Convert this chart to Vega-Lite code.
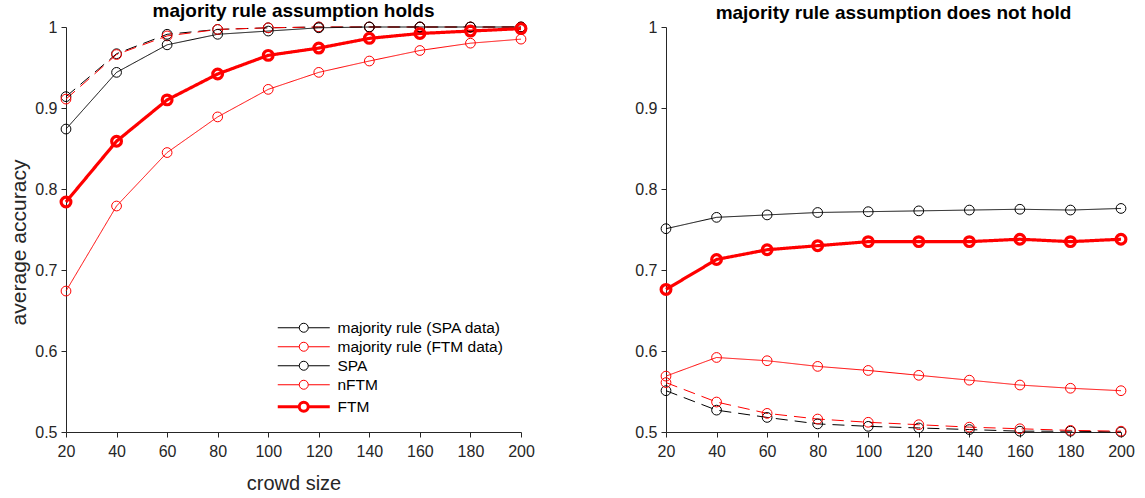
{
  "$schema": "https://vega.github.io/schema/vega-lite/v6.json",
  "padding": {"left": 8, "top": 2, "right": 10, "bottom": 2},
  "config": {
    "font": "Liberation Sans",
    "view": {"stroke": null},
    "axis": {
      "domainColor": "#262626", "tickColor": "#262626", "labelColor": "#262626", "titleColor": "#262626",
      "labelFontSize": 16, "titleFontSize": 20, "titleFontWeight": "normal", "grid": false, "tickSize": 5, "labelPadding": 4,
      "labelFlush": false
    },
    "axisX": {"labelPadding": 6},
    "title": {"fontSize": 19, "fontWeight": "bold", "color": "#000000", "offset": -4, "frame": "group"}
  },
  "datasets": {
    "acc": [
      {"panel": "L", "series": "majority rule (SPA data)", "n": 20, "acc": 0.914},
      {"panel": "L", "series": "majority rule (SPA data)", "n": 40, "acc": 0.967},
      {"panel": "L", "series": "majority rule (SPA data)", "n": 60, "acc": 0.991},
      {"panel": "L", "series": "majority rule (SPA data)", "n": 80, "acc": 0.997},
      {"panel": "L", "series": "majority rule (SPA data)", "n": 100, "acc": 0.999},
      {"panel": "L", "series": "majority rule (SPA data)", "n": 120, "acc": 1.0},
      {"panel": "L", "series": "majority rule (SPA data)", "n": 140, "acc": 1.0},
      {"panel": "L", "series": "majority rule (SPA data)", "n": 160, "acc": 1.0},
      {"panel": "L", "series": "majority rule (SPA data)", "n": 180, "acc": 1.0},
      {"panel": "L", "series": "majority rule (SPA data)", "n": 200, "acc": 1.0},
      {"panel": "L", "series": "majority rule (FTM data)", "n": 20, "acc": 0.911},
      {"panel": "L", "series": "majority rule (FTM data)", "n": 40, "acc": 0.966},
      {"panel": "L", "series": "majority rule (FTM data)", "n": 60, "acc": 0.989},
      {"panel": "L", "series": "majority rule (FTM data)", "n": 80, "acc": 0.997},
      {"panel": "L", "series": "majority rule (FTM data)", "n": 100, "acc": 0.999},
      {"panel": "L", "series": "majority rule (FTM data)", "n": 120, "acc": 1.0},
      {"panel": "L", "series": "majority rule (FTM data)", "n": 140, "acc": 1.0},
      {"panel": "L", "series": "majority rule (FTM data)", "n": 160, "acc": 1.0},
      {"panel": "L", "series": "majority rule (FTM data)", "n": 180, "acc": 1.0},
      {"panel": "L", "series": "majority rule (FTM data)", "n": 200, "acc": 1.0},
      {"panel": "L", "series": "SPA", "n": 20, "acc": 0.874},
      {"panel": "L", "series": "SPA", "n": 40, "acc": 0.944},
      {"panel": "L", "series": "SPA", "n": 60, "acc": 0.978},
      {"panel": "L", "series": "SPA", "n": 80, "acc": 0.991},
      {"panel": "L", "series": "SPA", "n": 100, "acc": 0.995},
      {"panel": "L", "series": "SPA", "n": 120, "acc": 0.999},
      {"panel": "L", "series": "SPA", "n": 140, "acc": 1.0},
      {"panel": "L", "series": "SPA", "n": 160, "acc": 1.0},
      {"panel": "L", "series": "SPA", "n": 180, "acc": 1.0},
      {"panel": "L", "series": "SPA", "n": 200, "acc": 1.0},
      {"panel": "L", "series": "nFTM", "n": 20, "acc": 0.674},
      {"panel": "L", "series": "nFTM", "n": 40, "acc": 0.779},
      {"panel": "L", "series": "nFTM", "n": 60, "acc": 0.845},
      {"panel": "L", "series": "nFTM", "n": 80, "acc": 0.889},
      {"panel": "L", "series": "nFTM", "n": 100, "acc": 0.923},
      {"panel": "L", "series": "nFTM", "n": 120, "acc": 0.944},
      {"panel": "L", "series": "nFTM", "n": 140, "acc": 0.958},
      {"panel": "L", "series": "nFTM", "n": 160, "acc": 0.971},
      {"panel": "L", "series": "nFTM", "n": 180, "acc": 0.980},
      {"panel": "L", "series": "nFTM", "n": 200, "acc": 0.985},
      {"panel": "L", "series": "FTM", "n": 20, "acc": 0.784},
      {"panel": "L", "series": "FTM", "n": 40, "acc": 0.859},
      {"panel": "L", "series": "FTM", "n": 60, "acc": 0.910},
      {"panel": "L", "series": "FTM", "n": 80, "acc": 0.942},
      {"panel": "L", "series": "FTM", "n": 100, "acc": 0.965},
      {"panel": "L", "series": "FTM", "n": 120, "acc": 0.974},
      {"panel": "L", "series": "FTM", "n": 140, "acc": 0.986},
      {"panel": "L", "series": "FTM", "n": 160, "acc": 0.992},
      {"panel": "L", "series": "FTM", "n": 180, "acc": 0.995},
      {"panel": "L", "series": "FTM", "n": 200, "acc": 0.998},
      {"panel": "R", "series": "majority rule (SPA data)", "n": 20, "acc": 0.551},
      {"panel": "R", "series": "majority rule (SPA data)", "n": 40, "acc": 0.527},
      {"panel": "R", "series": "majority rule (SPA data)", "n": 60, "acc": 0.518},
      {"panel": "R", "series": "majority rule (SPA data)", "n": 80, "acc": 0.510},
      {"panel": "R", "series": "majority rule (SPA data)", "n": 100, "acc": 0.507},
      {"panel": "R", "series": "majority rule (SPA data)", "n": 120, "acc": 0.505},
      {"panel": "R", "series": "majority rule (SPA data)", "n": 140, "acc": 0.503},
      {"panel": "R", "series": "majority rule (SPA data)", "n": 160, "acc": 0.501},
      {"panel": "R", "series": "majority rule (SPA data)", "n": 180, "acc": 0.501},
      {"panel": "R", "series": "majority rule (SPA data)", "n": 200, "acc": 0.500},
      {"panel": "R", "series": "majority rule (FTM data)", "n": 20, "acc": 0.561},
      {"panel": "R", "series": "majority rule (FTM data)", "n": 40, "acc": 0.537},
      {"panel": "R", "series": "majority rule (FTM data)", "n": 60, "acc": 0.523},
      {"panel": "R", "series": "majority rule (FTM data)", "n": 80, "acc": 0.516},
      {"panel": "R", "series": "majority rule (FTM data)", "n": 100, "acc": 0.512},
      {"panel": "R", "series": "majority rule (FTM data)", "n": 120, "acc": 0.509},
      {"panel": "R", "series": "majority rule (FTM data)", "n": 140, "acc": 0.506},
      {"panel": "R", "series": "majority rule (FTM data)", "n": 160, "acc": 0.504},
      {"panel": "R", "series": "majority rule (FTM data)", "n": 180, "acc": 0.502},
      {"panel": "R", "series": "majority rule (FTM data)", "n": 200, "acc": 0.501},
      {"panel": "R", "series": "SPA", "n": 20, "acc": 0.751},
      {"panel": "R", "series": "SPA", "n": 40, "acc": 0.765},
      {"panel": "R", "series": "SPA", "n": 60, "acc": 0.768},
      {"panel": "R", "series": "SPA", "n": 80, "acc": 0.771},
      {"panel": "R", "series": "SPA", "n": 100, "acc": 0.772},
      {"panel": "R", "series": "SPA", "n": 120, "acc": 0.773},
      {"panel": "R", "series": "SPA", "n": 140, "acc": 0.774},
      {"panel": "R", "series": "SPA", "n": 160, "acc": 0.775},
      {"panel": "R", "series": "SPA", "n": 180, "acc": 0.774},
      {"panel": "R", "series": "SPA", "n": 200, "acc": 0.776},
      {"panel": "R", "series": "nFTM", "n": 20, "acc": 0.569},
      {"panel": "R", "series": "nFTM", "n": 40, "acc": 0.592},
      {"panel": "R", "series": "nFTM", "n": 60, "acc": 0.588},
      {"panel": "R", "series": "nFTM", "n": 80, "acc": 0.581},
      {"panel": "R", "series": "nFTM", "n": 100, "acc": 0.576},
      {"panel": "R", "series": "nFTM", "n": 120, "acc": 0.570},
      {"panel": "R", "series": "nFTM", "n": 140, "acc": 0.564},
      {"panel": "R", "series": "nFTM", "n": 160, "acc": 0.558},
      {"panel": "R", "series": "nFTM", "n": 180, "acc": 0.554},
      {"panel": "R", "series": "nFTM", "n": 200, "acc": 0.551},
      {"panel": "R", "series": "FTM", "n": 20, "acc": 0.676},
      {"panel": "R", "series": "FTM", "n": 40, "acc": 0.713},
      {"panel": "R", "series": "FTM", "n": 60, "acc": 0.725},
      {"panel": "R", "series": "FTM", "n": 80, "acc": 0.730},
      {"panel": "R", "series": "FTM", "n": 100, "acc": 0.735},
      {"panel": "R", "series": "FTM", "n": 120, "acc": 0.735},
      {"panel": "R", "series": "FTM", "n": 140, "acc": 0.735},
      {"panel": "R", "series": "FTM", "n": 160, "acc": 0.738},
      {"panel": "R", "series": "FTM", "n": 180, "acc": 0.735},
      {"panel": "R", "series": "FTM", "n": 200, "acc": 0.738}
    ]
  },
  "spacing": 99,
  "resolve": {"legend": {"color": "independent"}},
  "hconcat": [
    {
      "width": 455,
      "height": 405,
      "title": "majority rule assumption holds",
      "data": {"name": "acc"},
      "transform": [{"filter": "datum.panel === 'L'"}],
      "encoding": {
        "x": {"field": "n", "type": "quantitative", "title": "crowd size",
          "scale": {"domain": [20, 200], "nice": false},
          "axis": {"values": [20, 40, 60, 80, 100, 120, 140, 160, 180, 200], "titlePadding": 14}},
        "y": {"field": "acc", "type": "quantitative", "title": "average accuracy",
          "scale": {"domain": [0.5, 1], "nice": false},
          "axis": {"values": [0.5, 0.6, 0.7, 0.8, 0.9, 1], "format": "~f", "titlePadding": 5, "titleFontSize": 21, "titleY": 215}},
        "color": {"field": "series", "type": "nominal",
          "scale": {"domain": ["majority rule (SPA data)", "majority rule (FTM data)", "SPA", "nFTM", "FTM"],
            "range": ["#000000", "#ff0000", "#000000", "#ff0000", "#ff0000"]},
          "legend": {"title": null, "orient": "none", "legendX": 230, "legendY": 293,
            "symbolType": "M-2.6,0L-0.45,0M0.45,0L2.6,0M0.45,0A0.45,0.45 0 1,1 -0.45,0A0.45,0.45 0 1,1 0.45,0",
            "symbolSize": 400, "symbolFillColor": "transparent", "labelFontSize": 15.5, "labelColor": "#000000",
            "labelOffset": 26, "rowPadding": 2, "labelLimit": 400,
            "encode": {"symbols": {"update": {"strokeWidth": {"signal": "datum.value === 'FTM' ? 3 : 1"}}}}}},
        "strokeWidth": {"condition": {"test": "datum.series === 'FTM'", "value": 3.2}, "value": 1}
      },
      "layer": [
        {
          "mark": {"type": "line"},
          "encoding": {
            "strokeDash": {"condition": {"test": "indexof(datum.series, 'majority') === 0", "value": [12, 7]}, "value": [1, 0]}
          }
        },
        {
          "mark": {"type": "point", "shape": "circle", "filled": false, "size": 95, "opacity": 1}
        }
      ]
    },
    {
      "width": 455,
      "height": 405,
      "title": "majority rule assumption does not hold",
      "data": {"name": "acc"},
      "transform": [{"filter": "datum.panel === 'R'"}],
      "encoding": {
        "x": {"field": "n", "type": "quantitative", "title": null,
          "scale": {"domain": [20, 200], "nice": false},
          "axis": {"values": [20, 40, 60, 80, 100, 120, 140, 160, 180, 200]}},
        "y": {"field": "acc", "type": "quantitative", "title": null,
          "scale": {"domain": [0.5, 1], "nice": false},
          "axis": {"values": [0.5, 0.6, 0.7, 0.8, 0.9, 1], "format": "~f"}},
        "color": {"field": "series", "type": "nominal",
          "scale": {"domain": ["majority rule (SPA data)", "majority rule (FTM data)", "SPA", "nFTM", "FTM"],
            "range": ["#000000", "#ff0000", "#000000", "#ff0000", "#ff0000"]},
          "legend": null},
        "strokeWidth": {"condition": {"test": "datum.series === 'FTM'", "value": 3.2}, "value": 1}
      },
      "layer": [
        {
          "mark": {"type": "line"},
          "encoding": {
            "strokeDash": {"condition": {"test": "indexof(datum.series, 'majority') === 0", "value": [12, 7]}, "value": [1, 0]}
          }
        },
        {
          "mark": {"type": "point", "shape": "circle", "filled": false, "size": 95, "opacity": 1}
        }
      ]
    }
  ]
}
